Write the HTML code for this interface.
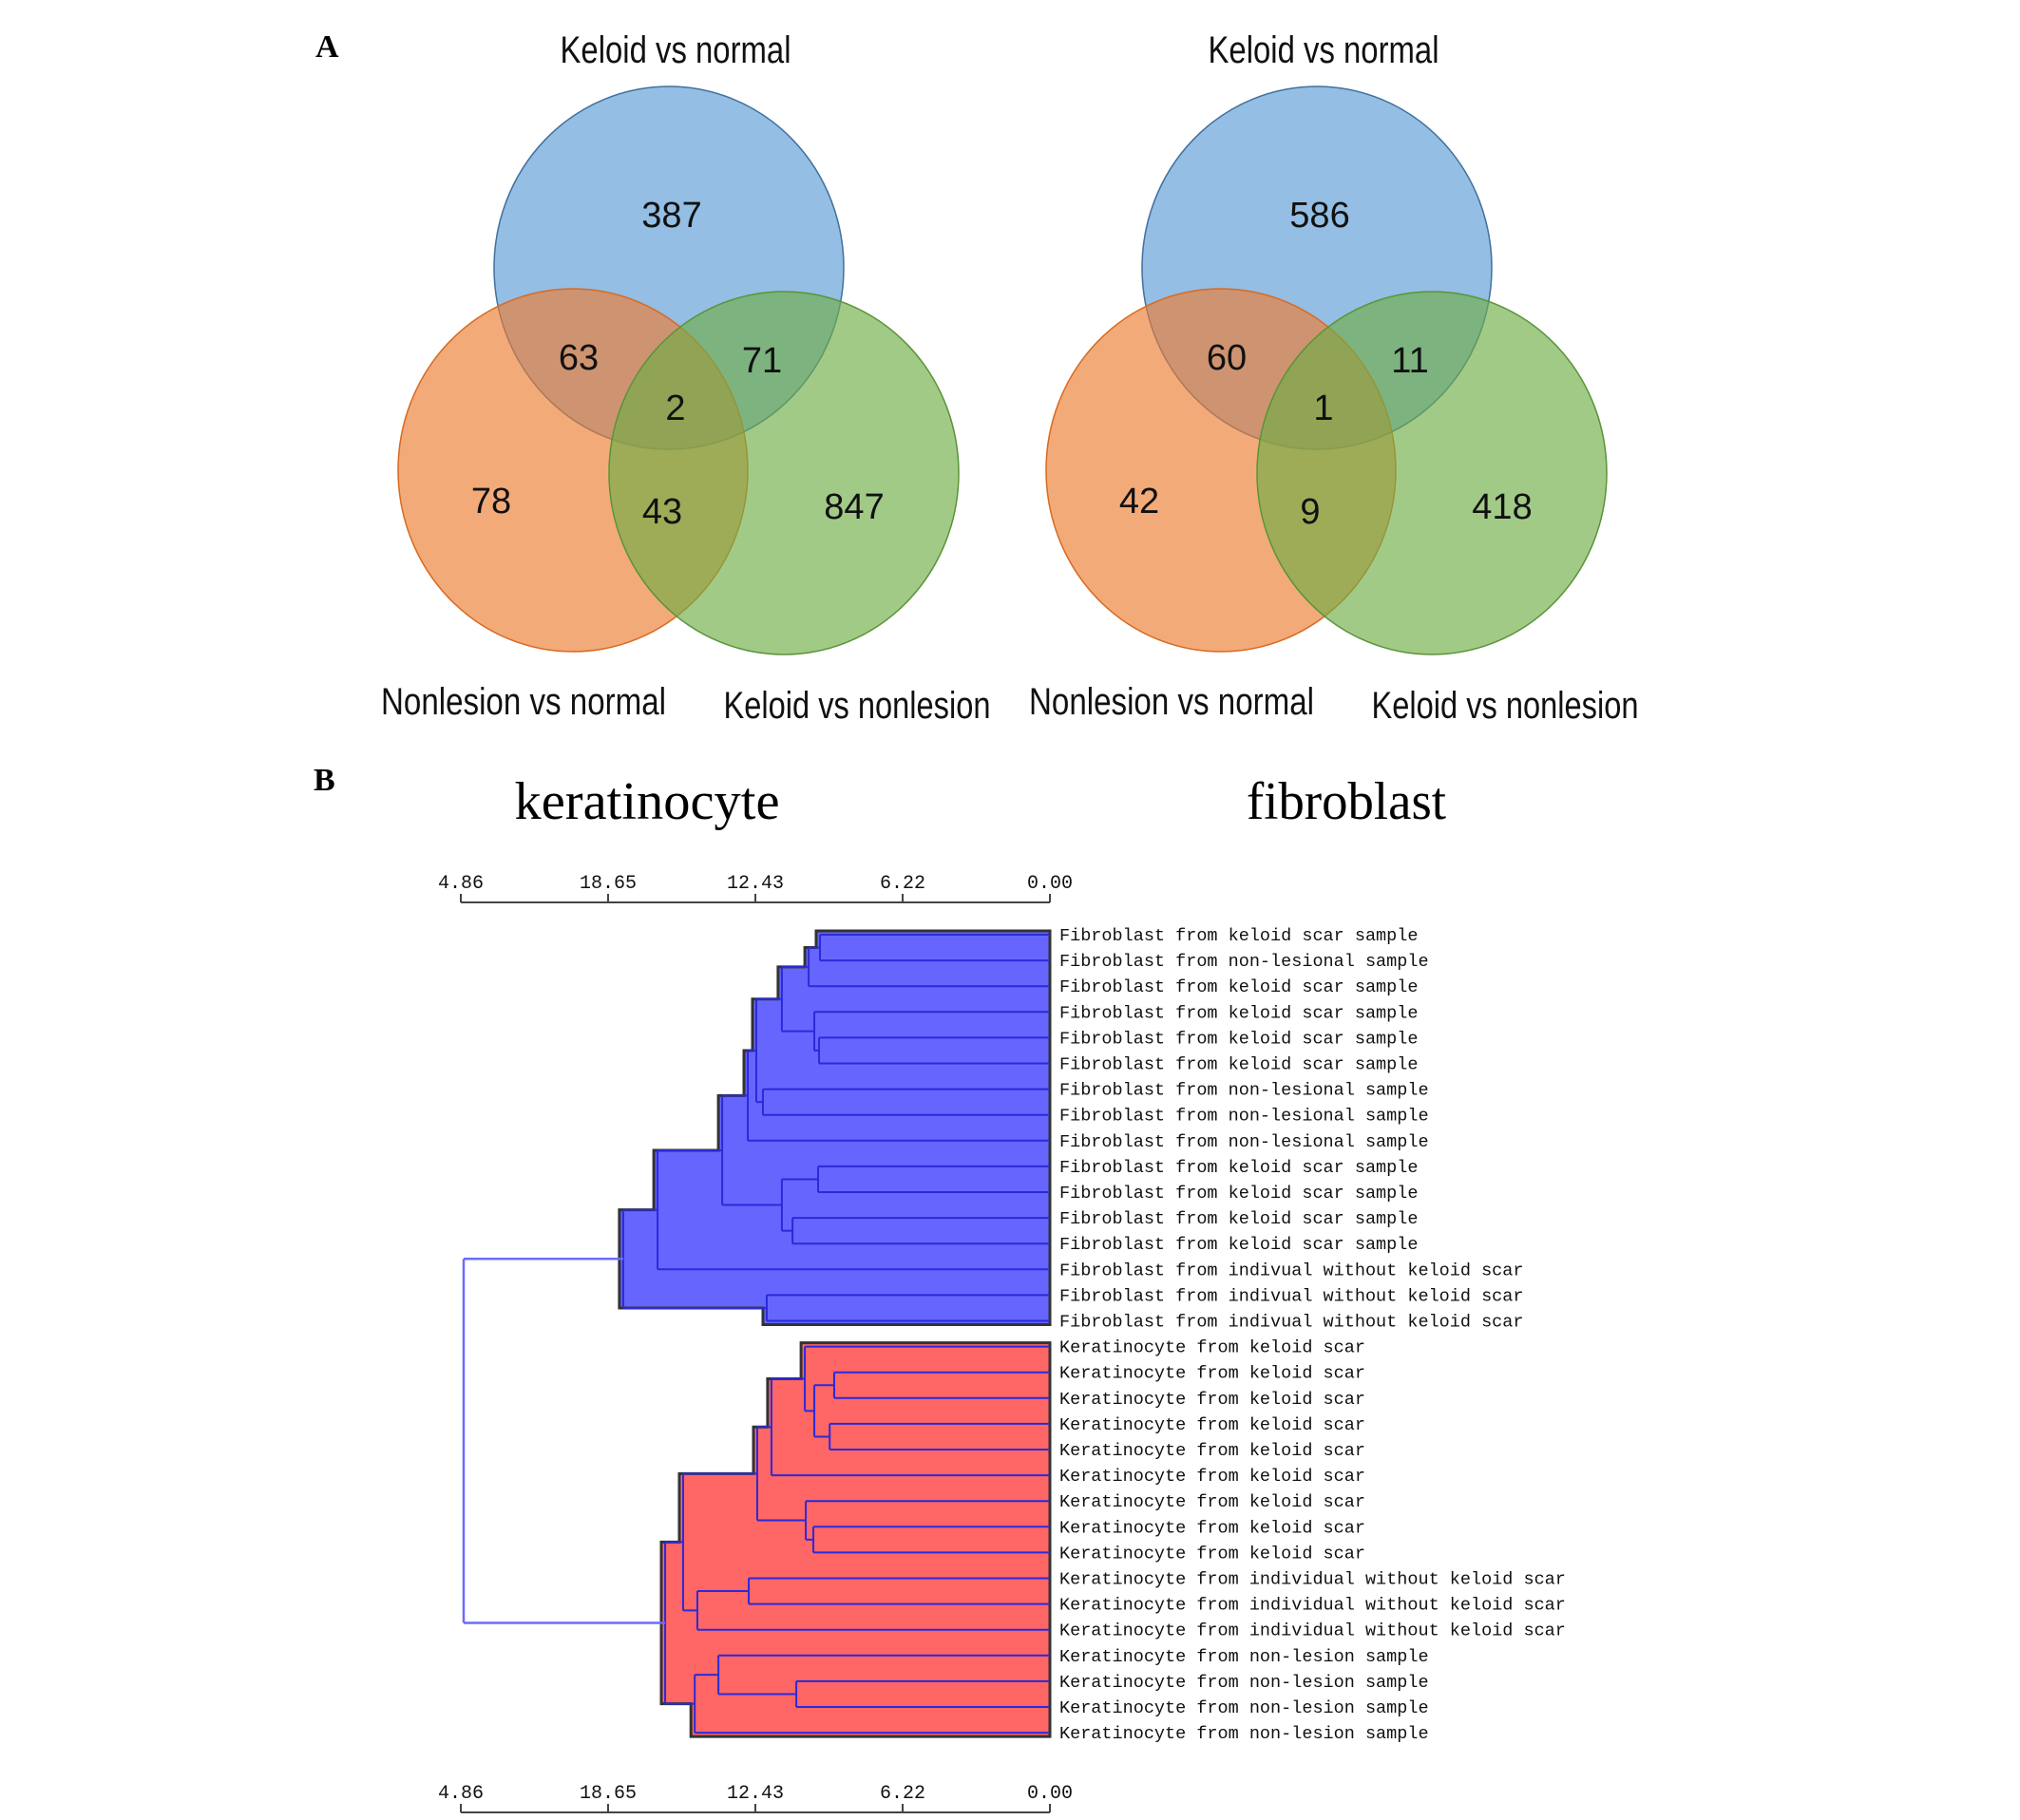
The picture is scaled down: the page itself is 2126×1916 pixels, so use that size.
<!DOCTYPE html>
<html><head><meta charset="utf-8"><style>
html,body{margin:0;padding:0;background:#fff;}
svg{display:block;}
.vl{font-family:"Liberation Sans Narrow","Liberation Sans",sans-serif;font-size:40px;fill:#111;}
.vn{font-family:"Liberation Sans Narrow","Liberation Sans",sans-serif;font-size:38px;fill:#111;text-anchor:middle;}
.mono{font-family:"Liberation Mono",monospace;fill:#111;}
</style></head><body>
<svg id="fig" width="2126" height="1916" viewBox="0 0 2126 1916" xmlns="http://www.w3.org/2000/svg">
<text x="332" y="60" font-family="Liberation Serif,serif" font-weight="bold" font-size="34">A</text>
<text x="330" y="832" font-family="Liberation Serif,serif" font-weight="bold" font-size="34">B</text>
<g id="venns"></g>
<text x="681" y="862" text-anchor="middle" font-family="Liberation Serif,serif" font-size="56" textLength="279" lengthAdjust="spacingAndGlyphs">keratinocyte</text>
<text x="1417" y="862" text-anchor="middle" font-family="Liberation Serif,serif" font-size="56" textLength="210" lengthAdjust="spacingAndGlyphs">fibroblast</text>
<g id="dendro"></g>
</svg>
<script>
// ---------- Venn data ----------
const vennTitles = ["Keloid vs normal","Nonlesion vs normal","Keloid vs nonlesion"];
const venn1Counts = [387,63,71,2,78,43,847]; // A only, AB, AC, ABC, B only, BC, C only
const venn2Counts = [586,60,11,1,42,9,418];
// ---------- Dendrogram data ----------
const leafLabels = [
"Fibroblast from keloid scar sample","Fibroblast from non-lesional sample","Fibroblast from keloid scar sample",
"Fibroblast from keloid scar sample","Fibroblast from keloid scar sample","Fibroblast from keloid scar sample",
"Fibroblast from non-lesional sample","Fibroblast from non-lesional sample","Fibroblast from non-lesional sample",
"Fibroblast from keloid scar sample","Fibroblast from keloid scar sample","Fibroblast from keloid scar sample",
"Fibroblast from keloid scar sample","Fibroblast from indivual without keloid scar","Fibroblast from indivual without keloid scar",
"Fibroblast from indivual without keloid scar",
"Keratinocyte from keloid scar","Keratinocyte from keloid scar","Keratinocyte from keloid scar","Keratinocyte from keloid scar",
"Keratinocyte from keloid scar","Keratinocyte from keloid scar","Keratinocyte from keloid scar","Keratinocyte from keloid scar",
"Keratinocyte from keloid scar","Keratinocyte from individual without keloid scar","Keratinocyte from individual without keloid scar",
"Keratinocyte from individual without keloid scar","Keratinocyte from non-lesion sample","Keratinocyte from non-lesion sample",
"Keratinocyte from non-lesion sample","Keratinocyte from non-lesion sample"];
const mergeA = [0,32,4,3,33,6,36,38,9,11,40,39,43,14,44, 17,19,47,16,50,23,22,51,25,55,54,29,28,59,57, 46];
const mergeB = [1,2,5,34,35,7,37,8,10,12,41,42,13,15,45, 18,20,48,49,21,24,52,53,26,27,56,30,58,31,60, 61];
const mergeH = [9.71,10.19,9.75,9.95,11.32,12.12,12.40,12.76,9.79,10.87,11.32,13.84,16.57,11.96,18.02,
 9.11,9.30,9.95,10.35,11.76,9.99,10.31,12.36,12.72,14.89,15.49,10.71,14.0,15.0,16.25, 24.76];
const tickLabels = ["4.86","18.65","12.43","6.22","0.00"];
const tickValues = [24.88,18.66,12.44,6.22,0];

const NS="http://www.w3.org/2000/svg";
function mk(tag,attrs,parent){const e=document.createElementNS(NS,tag);for(const k in attrs)e.setAttribute(k,attrs[k]);parent.appendChild(e);return e;}

// ---------- Venns ----------
const vg=document.getElementById('venns');
function drawVenn(ox,counts,idx){
  const g=mk('g',{},vg);
  
  
  const circ=[[706,282,'#5B9BD5','#41719C'],[605,495,'#ED7D31','#D86A20'],[827,498,'#70AD47','#5A9438']];
  const names=['circle-keloid-vs-normal','circle-nonlesion-vs-normal','circle-keloid-vs-nonlesion'];
  circ.forEach((c,i)=>{
    const e=mk('ellipse',{cx:c[0]+ox,cy:c[1],rx:184,ry:191,fill:c[2],'fill-opacity':0.65,stroke:c[3],'stroke-width':1.5},g);
    
    
  });
  const pos=[[709,226],[611,376],[804,379],[713,429],[519,527],[699,538],[901,533]];
  pos.forEach((p,i)=>{
    const t=mk('text',{x:p[0]+ox,y:p[1]+13,class:'vn'},g);
    t.textContent=counts[i];
    
    
  });
  const lp=[[713,66,243],[553,752,300],[904,756,281]];
  lp.forEach((p,i)=>{
    const t=mk('text',{x:p[0]+ox,y:p[1],class:'vl','text-anchor':'middle',textLength:p[2],lengthAdjust:'spacingAndGlyphs'},g);
    t.textContent=vennTitles[i];
    
    
  });
}
drawVenn(-2,venn1Counts,1);
drawVenn(680,venn2Counts,2);

// ---------- Dendrogram ----------
const dg=document.getElementById('dendro');
const X0=1105, PX=24.92, Y0=984, DY=27.1;
const xOf=h=>X0-h*PX;
const yLeaf=i=>Y0+i*DY;
const nL=leafLabels.length;
const nodeY=[],nodeX=[];
for(let i=0;i<nL;i++){nodeY[i]=yLeaf(i);nodeX[i]=X0;}
for(let k=0;k<mergeA.length;k++){const id=nL+k;nodeY[id]=(nodeY[mergeA[k]]+nodeY[mergeB[k]])/2;nodeX[id]=xOf(mergeH[k]);}
function subtree(id,out){out.push(id);if(id>=nL){const k=id-nL;subtree(mergeA[k],out);subtree(mergeB[k],out);}return out;}
function envelope(root,fill,name){
  const nodes=subtree(root,[]).filter(n=>n>=nL);
  const rects=nodes.map(n=>{const k=n-nL;const a=nodeY[mergeA[k]],b=nodeY[mergeB[k]];return [nodeX[n],Math.min(a,b),Math.max(a,b)];});
  const ys=[...new Set(rects.flatMap(r=>[r[1],r[2]]))].sort((a,b)=>a-b);
  const pad=4;
  let pts=[];
  for(let i=0;i<ys.length-1;i++){
    const m=(ys[i]+ys[i+1])/2;let mn=X0;
    rects.forEach(r=>{if(r[1]<=m&&r[2]>=m&&r[0]<mn)mn=r[0];});
    const top=i===0?ys[i]-pad:ys[i], bot=i===ys.length-2?ys[i+1]+pad:ys[i+1];
    pts.push([mn-pad,top],[mn-pad,bot]);
  }
  const d='M'+X0+','+(ys[0]-pad)+' '+pts.map(p=>'L'+p[0].toFixed(1)+','+p[1].toFixed(1)).join(' ')+' L'+X0+','+(ys[ys.length-1]+pad)+' Z';
  const p=mk('path',{d:d,fill:fill,stroke:'#333',"stroke-width":3,"stroke-linejoin":"miter"},dg);
  
  
}
envelope(46,'#6666ff','fibroblast-cluster');
envelope(61,'#ff6666','keratinocyte-cluster');
// links
for(let k=0;k<mergeA.length;k++){
  const id=nL+k,x=nodeX[id];const isRoot=k===mergeA.length-1;
  const col=isRoot?'#6b6bff':'#2a2ad8';const w=isRoot?2.5:2;
  [mergeA[k],mergeB[k]].forEach(c=>{
    const l=mk('line',{x1:x,y1:nodeY[c],x2:nodeX[c],y2:nodeY[c],stroke:col,'stroke-width':w},dg);
    
    
  });
  const v=mk('line',{x1:x,y1:nodeY[mergeA[k]],x2:x,y2:nodeY[mergeB[k]],stroke:col,'stroke-width':w},dg);
  
  
}
// leaf labels
leafLabels.forEach((s,i)=>{
  const t=mk('text',{x:1115,y:yLeaf(i)+6,class:'mono','font-size':18.5},dg);
  t.textContent=s;
  
  
});
// axes
function axis(yLine,name){
  const g=mk('g',{},dg);
  
  
  mk('line',{x1:xOf(tickValues[0]),y1:yLine,x2:X0,y2:yLine,stroke:'#444','stroke-width':2},g);
  tickValues.forEach((v,i)=>{
    const x=xOf(v);
    mk('line',{x1:x,y1:yLine,x2:x,y2:yLine-9,stroke:'#444','stroke-width':2},g);
    const t=mk('text',{x:x,y:yLine-15,'text-anchor':'middle',class:'mono','font-size':20},g);
    t.textContent=tickLabels[i];
    
    
  });
}
axis(950,'top-distance-axis');
axis(1908,'bottom-distance-axis');
</script>
</body></html>
